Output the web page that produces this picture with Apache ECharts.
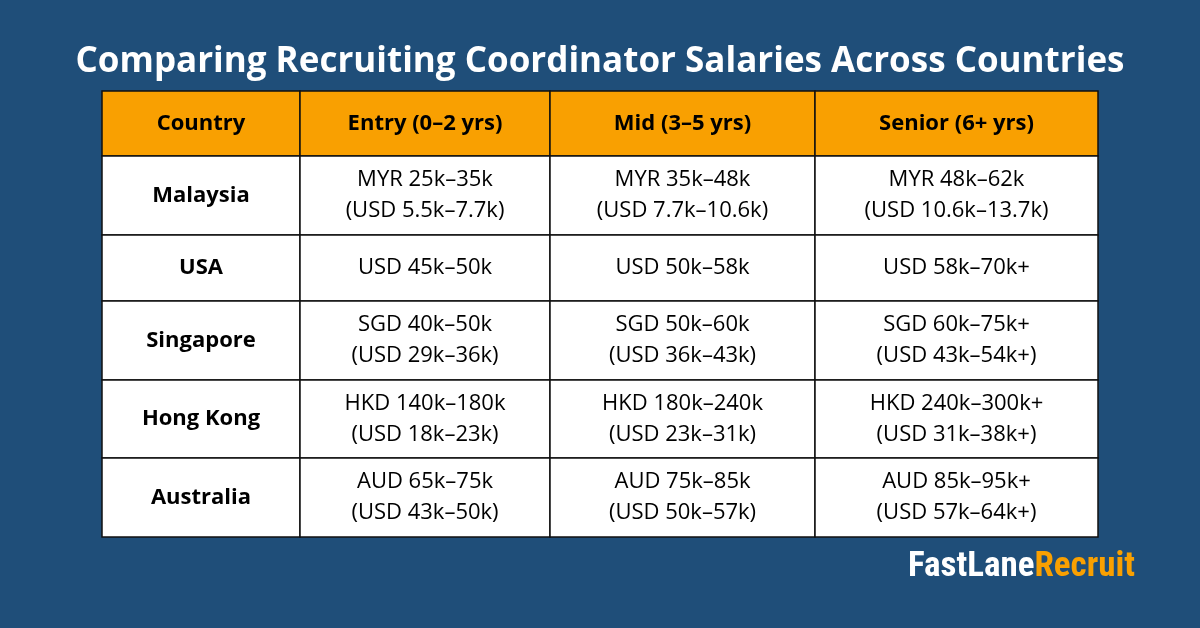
<!DOCTYPE html>
<html><head><meta charset="utf-8">
<script src="https://cdn.jsdelivr.net/npm/echarts@6/dist/echarts.min.js"></script>
<style>html,body{margin:0;padding:0;background:#1f4e79}#c{width:1200px;height:628px}</style>
</head><body><div id="c"></div>
<script>
const title = "Comparing Recruiting Coordinator Salaries Across Countries";
const headers = ["Country", "Entry (0–2 yrs)", "Mid (3–5 yrs)", "Senior (6+ yrs)"];
const countries = ["Malaysia", "USA", "Singapore", "Hong Kong", "Australia"];
const entry = ["MYR 25k–35k\n(USD 5.5k–7.7k)", "USD 45k–50k", "SGD 40k–50k\n(USD 29k–36k)", "HKD 140k–180k\n(USD 18k–23k)", "AUD 65k–75k\n(USD 43k–50k)"];
const mid = ["MYR 35k–48k\n(USD 7.7k–10.6k)", "USD 50k–58k", "SGD 50k–60k\n(USD 36k–43k)", "HKD 180k–240k\n(USD 23k–31k)", "AUD 75k–85k\n(USD 50k–57k)"];
const senior = ["MYR 48k–62k\n(USD 10.6k–13.7k)", "USD 58k–70k+", "SGD 60k–75k+\n(USD 43k–54k+)", "HKD 240k–300k+\n(USD 31k–38k+)", "AUD 85k–95k+\n(USD 57k–64k+)"];

const colX = [102, 300, 550, 815, 1098];
const rowY = [91, 156, 235, 301, 380, 458, 537];
const els = [];
const cols = [countries, entry, mid, senior];
for (let r = 0; r < rowY.length - 1; r++) {
  for (let c = 0; c < 4; c++) {
    const x0 = colX[c], x1 = colX[c+1], y0 = rowY[r], y1 = rowY[r+1];
    const header = r === 0;
    els.push({type:'rect', shape:{x:x0,y:y0,width:x1-x0,height:y1-y0},
      style:{fill: header ? '#f9a001' : '#ffffff', stroke:'#111', lineWidth:1.5}});
    const txt = header ? headers[c] : cols[c][r-1];
    els.push({type:'text', x:(x0+x1)/2, y:(y0+y1)/2,
      style:{text:txt, fill:'#000', align:'center', verticalAlign:'middle',
        font: ((header || c===0) ? 'bold ' : '') + '22px "Open Sans", sans-serif', lineHeight:31}});
  }
}
els.push({type:'text', x:600, y:62, style:{text:title, fill:'#fff', align:'center', verticalAlign:'middle', font:'bold 35px "Open Sans", sans-serif'}});
els.push({type:'text', x:1135, y:567, style:{text:'{a|FastLane}{b|Recruit}', align:'right', verticalAlign:'middle',
  rich:{a:{fill:'#fff', font:'bold 35px "Roboto Condensed", "Liberation Sans Narrow", Roboto, sans-serif'},
        b:{fill:'#f9a001', font:'bold 35px "Roboto Condensed", "Liberation Sans Narrow", Roboto, sans-serif'}}}});
const chart = echarts.init(document.getElementById('c'));
chart.setOption({backgroundColor:'#1f4e79', graphic:{elements:els}});
</script></body></html>
